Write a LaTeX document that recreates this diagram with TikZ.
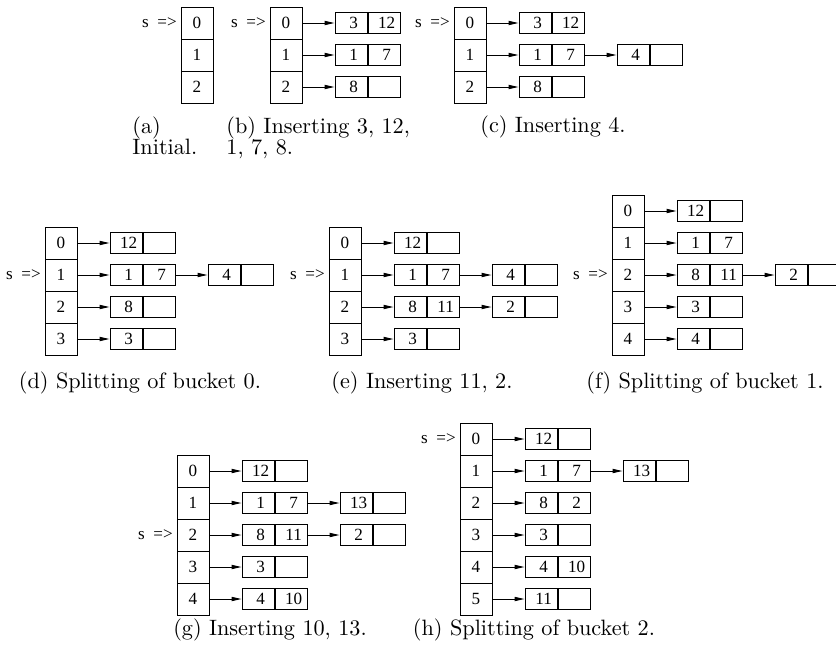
\documentclass[tikz,border=0pt]{standalone}
\usepackage{fontspec}
\usetikzlibrary{arrows.meta,positioning}
\newfontfamily\figfont{Liberation Serif}
\newcommand{\cellfont}{\figfont\fontsize{7.7}{9}\selectfont}

\tikzset{
  slot/.style={draw, line width=0.45pt, minimum width=14.4pt, minimum height=14.4pt, inner sep=0pt, font=\cellfont},
  half/.style={draw, line width=0.45pt, minimum width=14.4pt, minimum height=9.45pt, inner sep=0pt, font=\cellfont},
  link/.style={line width=0.45pt, -{Triangle[length=4.5pt,width=1.9pt]}},
  ptr/.style={inner sep=0pt, font=\cellfont},
  caption/.style={inner sep=0pt, font=\normalsize}
}

% directory slots: panel, left x, top y, last index
\newcommand{\dirslots}[4]{%
  \foreach \i in {0,...,#4}
    \node[slot] (#1-\i) at (#2+16, #3+16+32*\i) {\i};
}
% two-field bucket hung off the node on its left
% (values sit a little right of centre)
\newcommand{\bucketbox}[4]{%
  \node[half, right=14.4pt of #1] (#2) {\hspace*{2.4pt}#3};
  \node[half, right=0pt of #2] (#2r) {\hspace*{2.4pt}#4};
  \draw[link] (#1) -- (#2);
}
% the s => marker in front of a slot
\newcommand{\spointer}[1]{%
  \node[ptr, left=1.5pt of #1] (#1s) {s\enspace=>};
}

\begin{document}
\begin{tikzpicture}[x=0.45pt, y=-0.45pt]
\useasboundingbox (0,0) rectangle (836,653);

% (a)
\dirslots{a}{181}{7}{2}
\spointer{a-0}
\node[caption, anchor=north west, align=left] (cap-a) at (132,116) {(a)\\[-2.4pt]Initial.};

% (b)
\dirslots{b}{270}{7}{2}
\spointer{b-0}
\bucketbox{b-0}{b-0b}{3}{12}
\bucketbox{b-1}{b-1b}{1}{7}
\bucketbox{b-2}{b-2b}{8}{}
\node[caption, anchor=north west, align=left] (cap-b) at (226,116) {(b) Inserting 3, 12,\\[-2.4pt]1, 7, 8.};

% (c)
\dirslots{c}{454}{7}{2}
\spointer{c-0}
\bucketbox{c-0}{c-0b}{3}{12}
\bucketbox{c-1}{c-1b}{1}{7}
\bucketbox{c-1br}{c-1o}{4}{}
\bucketbox{c-2}{c-2b}{8}{}
\node[caption] (cap-c) at (553,127) {(c) Inserting 4.};

% (d)
\dirslots{d}{45}{227}{3}
\spointer{d-1}
\bucketbox{d-0}{d-0b}{12}{}
\bucketbox{d-1}{d-1b}{1}{7}
\bucketbox{d-1br}{d-1o}{4}{}
\bucketbox{d-2}{d-2b}{8}{}
\bucketbox{d-3}{d-3b}{3}{}
\node[caption] (cap-d) at (140,383) {(d) Splitting of bucket 0.};

% (e)
\dirslots{e}{329}{227}{3}
\spointer{e-1}
\bucketbox{e-0}{e-0b}{12}{}
\bucketbox{e-1}{e-1b}{1}{7}
\bucketbox{e-1br}{e-1o}{4}{}
\bucketbox{e-2}{e-2b}{8}{11}
\bucketbox{e-2br}{e-2o}{2}{}
\bucketbox{e-3}{e-3b}{3}{}
\node[caption] (cap-e) at (422,383) {(e) Inserting 11, 2.};

% (f)
\dirslots{f}{612}{195}{4}
\spointer{f-2}
\bucketbox{f-0}{f-0b}{12}{}
\bucketbox{f-1}{f-1b}{1}{7}
\bucketbox{f-2}{f-2b}{8}{11}
\bucketbox{f-2br}{f-2o}{2}{}
\bucketbox{f-3}{f-3b}{3}{}
\bucketbox{f-4}{f-4b}{4}{}
\node[caption] (cap-f) at (705,383) {(f) Splitting of bucket 1.};

% (g)
\dirslots{g}{177}{455}{4}
\spointer{g-2}
\bucketbox{g-0}{g-0b}{12}{}
\bucketbox{g-1}{g-1b}{1}{7}
\bucketbox{g-1br}{g-1o}{13}{}
\bucketbox{g-2}{g-2b}{8}{11}
\bucketbox{g-2br}{g-2o}{2}{}
\bucketbox{g-3}{g-3b}{3}{}
\bucketbox{g-4}{g-4b}{4}{10}
\node[caption] (cap-g) at (270,630) {(g) Inserting 10, 13.};

% (h)
\dirslots{h}{460}{423}{5}
\spointer{h-0}
\bucketbox{h-0}{h-0b}{12}{}
\bucketbox{h-1}{h-1b}{1}{7}
\bucketbox{h-1br}{h-1o}{13}{}
\bucketbox{h-2}{h-2b}{8}{2}
\bucketbox{h-3}{h-3b}{3}{}
\bucketbox{h-4}{h-4b}{4}{10}
\bucketbox{h-5}{h-5b}{11}{}
\node[caption] (cap-h) at (534,630) {(h) Splitting of bucket 2.};
\end{tikzpicture}
\end{document}
